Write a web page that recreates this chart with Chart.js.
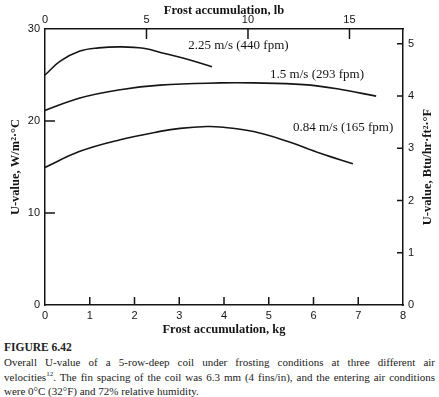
<!DOCTYPE html>
<html lang="en">
<head>
  <meta charset="UTF-8">
  <title>Frost accumulation U-value</title>
  <script src="https://cdn.jsdelivr.net/npm/chart.js"></script>
  <style>
    body { margin: 0; background: #fff; }
    #wrap { position: relative; width: 439px; height: 340px; }
    #cap { position: absolute; left: 4px; top: 340px; width: 431px;
           font-family: "Liberation Serif", serif; font-size: 11px; line-height: 14.8px; color: #222; }
    #cap .fig { font-weight: bold; font-size: 11.5px; }
    #cap .j { text-align: justify; text-align-last: justify; white-space: nowrap; }
    #cap sup { font-size: 7px; line-height: 0; }
  </style>
</head>
<body>
<div id="wrap"><canvas id="chart"></canvas></div>
<div id="cap">
  <div class="fig">FIGURE 6.42</div>
  <div class="j">Overall U-value of a 5-row-deep coil under frosting conditions at three different air</div>
  <div class="j">velocities<sup>12</sup>. The fin spacing of the coil was 6.3 mm (4 fins/in), and the entering air conditions</div>
  <div>were 0°C (32°F) and 72% relative humidity.</div>
</div>

<script>
// curves: frost (kg) vs U-value (W/m2.C)
const kg225 = [0, 0.34, 0.78, 1.2, 1.7, 2.2, 2.7, 3.2, 3.73];
const u225  = [25.0, 26.5, 27.6, 27.95, 28.06, 27.9, 27.3, 26.68, 25.9];

const kg150 = [0, 0.78, 1.68, 2.57, 3.91, 4.66, 5.78, 6.53, 7.40];
const u150  = [21.15, 22.5, 23.4, 23.9, 24.14, 24.14, 23.95, 23.5, 22.7];

const kg084 = [0, 0.78, 1.68, 2.57, 3.02, 3.62, 3.91, 4.66, 5.41, 6.15, 6.88];
const u084  = [14.95, 16.7, 17.96, 18.87, 19.2, 19.4, 19.35, 18.85, 17.8, 16.5, 15.35];

const curveNames = ["2.25 m/s (440 fpm)", "1.5 m/s (293 fpm)", "0.84 m/s (165 fpm)"];
// label anchors (kg, W/m2.C), left edge / middle of text
const labelKg = [3.2, 5.03, 5.54];
const labelU  = [28.2, 25.05, 19.27];

const LB_PER_KG = 2.20462;
const W_PER_BTU = 5.678;

const INK = "#151515";
const tickFont = { family: "'Liberation Sans', Arial, sans-serif", size: 11 };
const titleFont = { family: "'Liberation Serif', 'Times New Roman', serif", size: 12.5, weight: "bold" };

function pts(xs, ys) {
  return xs.map((x, i) => ({ x: x, y: ys[i] }));
}

function line(xs, ys) {
  return {
    data: pts(xs, ys),
    showLine: true,
    borderColor: INK,
    borderWidth: 1.6,
    pointRadius: 0,
    tension: 0.4,
    xAxisID: "x",
    yAxisID: "y"
  };
}

// inward tick marks, right-hand title and curve labels
const extras = {
  id: "extras",
  afterDraw(chart) {
    const ctx = chart.ctx;
    const a = chart.chartArea;
    const s = chart.scales;
    ctx.save();
    ctx.strokeStyle = INK;
    ctx.lineWidth = 1.5;
    const inner = (scale) => scale.ticks
      .filter(t => t.value > scale.min && t.value < scale.max)
      .map(t => scale.getPixelForValue(t.value));
    ctx.beginPath();
    inner(s.x).forEach(p => { ctx.moveTo(p, a.bottom); ctx.lineTo(p, a.bottom - 8); });
    inner(s.x2).forEach(p => { ctx.moveTo(p, a.top); ctx.lineTo(p, a.top + 10); });
    inner(s.y).forEach(p => { ctx.moveTo(a.left, p); ctx.lineTo(a.left + 10, p); });
    inner(s.y2).forEach(p => { ctx.moveTo(a.right, p); ctx.lineTo(a.right - 6, p); });
    ctx.stroke();

    ctx.fillStyle = INK;
    ctx.font = "bold 12.5px 'Liberation Serif', serif";
    ctx.textAlign = "center";
    ctx.textBaseline = "middle";
    ctx.translate(s.y2.right - 11.5, (a.top + a.bottom) / 2);
    ctx.rotate(-Math.PI / 2);
    ctx.fillText("U-value, Btu/hr·ft²·°F", 0, 0);
    ctx.setTransform(1, 0, 0, 1, 0, 0);

    ctx.font = "13px 'Liberation Serif', serif";
    ctx.textAlign = "left";
    curveNames.forEach((txt, i) => {
      ctx.fillText(txt, s.x.getPixelForValue(labelKg[i]), s.y.getPixelForValue(labelU[i]));
    });
    ctx.restore();
  }
};

const border = { display: true, color: INK, width: 1.5 };
const noGrid = { display: false, drawTicks: false };

new Chart(document.getElementById("chart"), {
  type: "scatter",
  data: { datasets: [line(kg225, u225), line(kg150, u150), line(kg084, u084)] },
  options: {
    responsive: true,
    maintainAspectRatio: false,
    animation: false,
    layout: { padding: 0 },
    plugins: { legend: { display: false }, tooltip: { enabled: false } },
    scales: {
      x: {
        type: "linear", position: "bottom", min: 0, max: 8,
        ticks: { stepSize: 1, padding: 4, color: INK, font: tickFont },
        grid: noGrid, border: border,
        title: { display: true, text: "Frost accumulation, kg", color: INK, font: titleFont, padding: { top: 0, bottom: 3 } },
        afterFit(scale) { scale.height = 35; }
      },
      x2: {
        type: "linear", position: "top", min: 0, max: 8 * LB_PER_KG,
        ticks: { stepSize: 5, includeBounds: false, padding: 2, color: INK, font: tickFont },
        grid: noGrid, border: border,
        title: { display: true, text: "Frost accumulation, lb", color: INK, font: titleFont, padding: { top: 3, bottom: 0 } },
        afterFit(scale) { scale.height = 29; }
      },
      y: {
        type: "linear", position: "left", min: 0, max: 30,
        ticks: { stepSize: 10, padding: 5, color: INK, font: tickFont },
        grid: noGrid, border: border,
        title: { display: true, text: "U-value, W/m²·°C", color: INK, font: titleFont, padding: { top: 8, bottom: 0 } },
        afterFit(scale) { scale.width = 45; }
      },
      y2: {
        type: "linear", position: "right", min: 0, max: 30 / W_PER_BTU,
        ticks: { stepSize: 1, includeBounds: false, padding: 5, color: INK, font: tickFont },
        grid: noGrid, border: border,
        afterFit(scale) { scale.width = 36; }
      }
    }
  },
  plugins: [extras]
});
</script>
</body>
</html>
